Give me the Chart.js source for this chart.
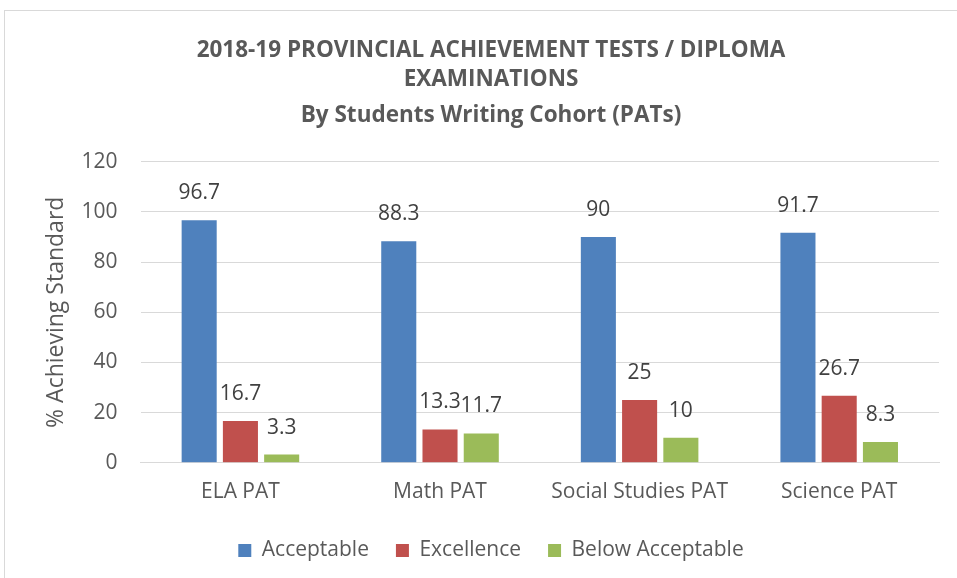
<!DOCTYPE html>
<html>
<head>
<meta charset="utf-8">
<script src="https://cdn.jsdelivr.net/npm/chart.js@4.4.1/dist/chart.umd.min.js"></script>
<style>
  body { margin: 0; background: #fff; }
  #wrap { position: relative; width: 957px; height: 578px; }
  #frame { position: absolute; left: 4px; top: 10px; width: 960px; height: 580px;
           border-top: 1px solid #d9d9d9; border-left: 1px solid #d9d9d9; }
</style>
</head>
<body>
<div id="wrap">
  <div id="frame"></div>
  <canvas id="chart_pat" width="957" height="578"></canvas>
</div>
<script>
const categories = ['ELA PAT', 'Math PAT', 'Social Studies PAT', 'Science PAT'];
const acceptable = [96.7, 88.3, 90, 91.7];
const excellence = [16.7, 13.3, 25, 26.7];
const belowAcceptable = [3.3, 11.7, 10, 8.3];
const yTicks = [0, 20, 40, 60, 80, 100, 120];

const fontFamily = "'Open Sans', 'Liberation Sans', sans-serif";
const textColor = '#595959';

// value labels above each bar
const barLabels = {
  id: 'barLabels',
  afterDatasetsDraw(chart) {
    const ctx = chart.ctx;
    ctx.save();
    ctx.font = '21px ' + fontFamily;
    ctx.fillStyle = '#404040';
    ctx.textAlign = 'center';
    ctx.textBaseline = 'middle';
    chart.data.datasets.forEach((ds, i) => {
      chart.getDatasetMeta(i).data.forEach((bar, j) => {
        ctx.fillText(String(ds.data[j]), bar.x, bar.y - 27);
      });
    });
    ctx.restore();
  }
};

new Chart(document.getElementById('chart_pat'), {
  type: 'bar',
  data: {
    labels: categories,
    datasets: [
      { label: 'Acceptable', data: acceptable, backgroundColor: '#4f81bd' },
      { label: 'Excellence', data: excellence, backgroundColor: '#c0504d' },
      { label: 'Below Acceptable', data: belowAcceptable, backgroundColor: '#9bbb59' }
    ]
  },
  options: {
    responsive: false,
    animation: false,
    datasets: { bar: { categoryPercentage: 0.62, barPercentage: 0.85 } },
    layout: { padding: { left: 43, right: 18, top: 36, bottom: 7 } },
    scales: {
      x: {
        grid: { display: false },
        border: { color: '#d9d9d9', width: 1 },
        ticks: { color: textColor, font: { family: fontFamily, size: 21 }, padding: 8.5 }
      },
      y: {
        min: 0,
        max: 120,
        afterBuildTicks: (axis) => { axis.ticks = yTicks.map(v => ({ value: v })); },
        grid: { color: '#d9d9d9', lineWidth: 1, drawTicks: false },
        border: { display: false },
        ticks: { color: textColor, font: { family: fontFamily, size: 21 }, padding: 23 },
        title: {
          display: true,
          text: '% Achieving Standard',
          color: textColor,
          font: { family: fontFamily, size: 23 },
          padding: { top: 0, bottom: -12 }
        }
      }
    },
    plugins: {
      title: {
        display: true,
        text: ['2018-19 PROVINCIAL ACHIEVEMENT TESTS / DIPLOMA', 'EXAMINATIONS'],
        color: textColor,
        font: { family: fontFamily, size: 22.5, weight: 'bold', lineHeight: 1.3 },
        padding: { top: 0, bottom: 6 }
      },
      subtitle: {
        display: true,
        text: 'By Students Writing Cohort (PATs)',
        color: textColor,
        font: { family: fontFamily, size: 22.5, weight: 'bold', lineHeight: 1.3 },
        padding: { top: 0, bottom: 32 }
      },
      legend: {
        position: 'bottom',
        labels: {
          color: textColor,
          font: { family: fontFamily, size: 21 },
          boxWidth: 13,
          boxHeight: 13,
          padding: 27
        }
      },
      tooltip: { enabled: false }
    }
  },
  plugins: [barLabels]
});
</script>
</body>
</html>
